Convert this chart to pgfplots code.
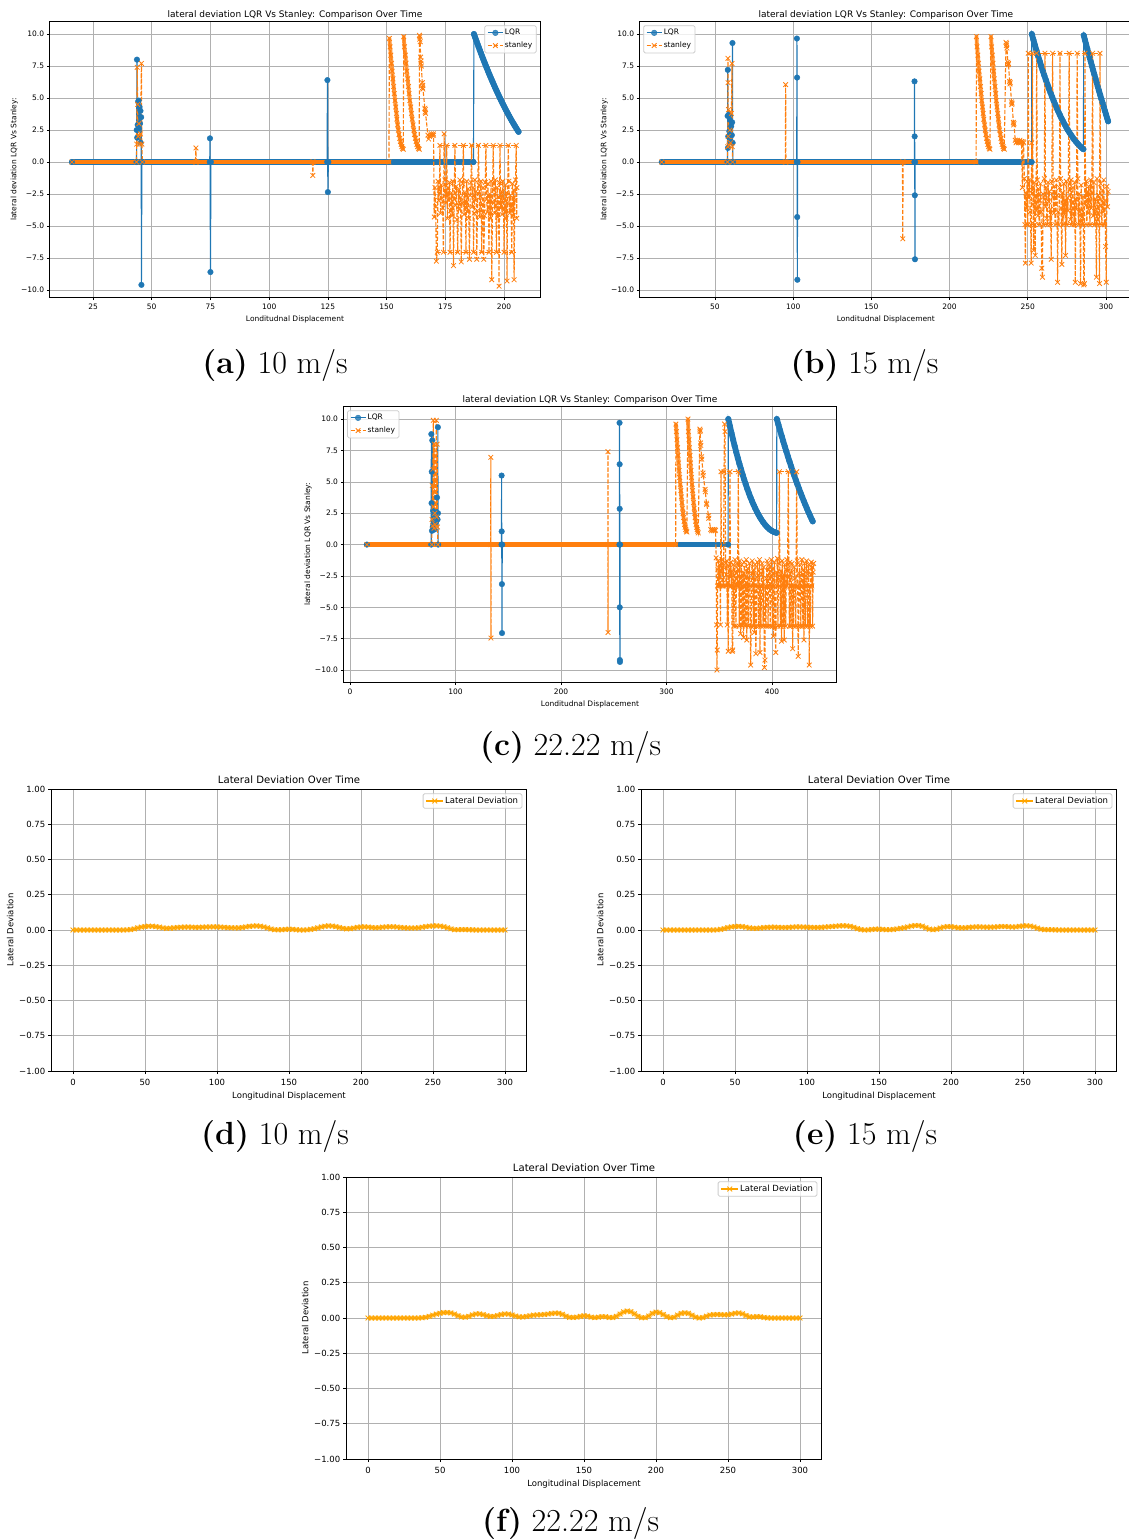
\documentclass[border=0pt]{standalone}
\usepackage{fontspec}
\usepackage{pgfplots}
\usepackage{pgfplotstable}
\pgfplotsset{compat=1.18}
\newfontfamily\dv{DejaVu Sans}
\definecolor{tabblue}{HTML}{1F77B4}
\definecolor{taborange}{HTML}{FF7F0E}
\definecolor{mplorange}{HTML}{FFA500}
\definecolor{gridgray}{HTML}{B0B0B0}
\newcommand\fa{\dv\fontsize{7.5pt}{9pt}\selectfont}
\newcommand\fb{\dv\fontsize{9pt}{11pt}\selectfont}
\newcommand\fc{\dv\fontsize{8.5pt}{10pt}\selectfont}
\newcommand\fd{\dv\fontsize{10.1pt}{12pt}\selectfont}
\newcommand\capfont{\fontsize{32pt}{38pt}\selectfont}
\pgfplotsset{
  mybase/.style={
    scale only axis, anchor=north west,
    axis line style={black, line width=0.6pt},
    grid=major, grid style={gridgray, line width=0.6pt},
    tick align=outside, xtick pos=bottom, ytick pos=left,
    tick style={black, line width=0.6pt},
    legend cell align=left,
  },
  topax/.style={mybase,
    ymin=-10.58, ymax=10.98,
    ytick={-10,-7.5,-5,-2.5,0,2.5,5,7.5,10},
    yticklabels={−10.0,−7.5,−5.0,−2.5,0.0,2.5,5.0,7.5,10.0},
    major tick length=2.6pt,
    xticklabel style={font=\fa, anchor=north, inner sep=0pt, yshift=-4.1pt},
    yticklabel style={font=\fa, anchor=east, inner sep=0pt, xshift=-2.65pt},
    xlabel style={font=\fa, anchor=north, inner sep=0pt, yshift=-6pt},
    ylabel style={font=\fa, inner sep=0pt, yshift=3pt},
    title style={font=\fb, at={(0.5,1)}, anchor=base, inner sep=0pt, yshift=-2.4pt},
    xlabel={Londitudnal Displacement},
    ylabel={lateral deviation LQR Vs Stanley:},
    title={lateral deviation LQR Vs Stanley: Comparison Over Time},
    legend style={font=\fa, draw=black!20, line width=0.75pt, rounded corners=1.5pt, fill=white, fill opacity=0.8, text opacity=1, draw opacity=1, inner xsep=2.5pt, inner ysep=2.2pt, row sep=2.6pt, nodes={inner sep=1.5pt}},
    legend image code/.code={\draw[mark repeat=2,mark phase=2,##1] plot coordinates {(0pt,0pt) (7.5pt,0pt) (15pt,0pt)};},
    legend entries={LQR,stanley},
  },
  botax/.style={mybase,
    ymin=-1, ymax=1, xmin=-15, xmax=315,
    width=475.2pt, height=282pt,
    ytick={-1,-0.75,-0.5,-0.25,0,0.25,0.5,0.75,1},
    yticklabels={−1.00,−0.75,−0.50,−0.25,0.00,0.25,0.50,0.75,1.00},
    xtick={0,50,100,150,200,250,300},
    xticklabels={0,50,100,150,200,250,300},
    major tick length=3pt,
    axis line style={line width=0.68pt}, grid style={line width=0.68pt}, tick style={line width=0.68pt},
    xticklabel style={font=\fc, anchor=north, inner sep=0pt, yshift=-4.65pt},
    yticklabel style={font=\fc, anchor=east, inner sep=0pt, xshift=-2.95pt},
    xlabel style={font=\fc, anchor=north, inner sep=0pt, yshift=-6.8pt},
    ylabel style={font=\fc, inner sep=0pt, yshift=5.4pt},
    title style={font=\fd, at={(0.5,1)}, anchor=base, inner sep=0pt, yshift=-0.5pt},
    xlabel={Longitudinal Displacement},
    ylabel={Lateral Deviation},
    title={Lateral Deviation Over Time},
    legend style={font=\fc, draw=black!20, line width=0.85pt, rounded corners=1.5pt, fill=white, fill opacity=0.8, text opacity=1, draw opacity=1, inner xsep=2.5pt, inner ysep=2pt, nodes={inner sep=1.3pt}, at={(1,1)}, anchor=north east, xshift=-4.25pt, yshift=-4.25pt},
    legend image code/.code={\draw[mark repeat=2,mark phase=2,##1] plot coordinates {(0pt,0pt) (8.5pt,0pt) (17pt,0pt)};},
    legend entries={Lateral Deviation},
  },
  lqr/.style={color=tabblue, line width=1.125pt, mark=*, mark size=2.8pt, mark options={solid, fill=tabblue, line width=0.4pt}},
  lqrband/.style={forget plot, color=tabblue, line width=5.8pt, line cap=round, line join=round, mark=none},
  stan/.style={color=taborange, line width=1.125pt, dash pattern=on 4.16pt off 1.8pt, mark=x, mark size=3.3pt, mark options={solid, line width=0.8pt}},
  stanband/.style={forget plot, color=taborange, line width=4.6pt, line cap=round, mark=none},
  stanband2/.style={forget plot, color=taborange!80, line width=3.8pt, line cap=round, line join=round, mark=none},
  stanguide/.style={forget plot, color=taborange, line width=1.125pt, dash pattern=on 4.16pt off 1.8pt, mark=none},
  latdev/.style={color=mplorange, line width=1.275pt, mark=x, mark size=3.4pt, mark options={line width=0.85pt}},
  latband/.style={forget plot, color=mplorange, line width=4.4pt, opacity=0.6, line join=round, mark=none},
}
\pgfplotstableread[row sep=\\]{x y\\0 0\\2.5 0\\5 0\\7.5 0\\10 0\\12.5 0\\15 0\\17.5 0\\20 0\\22.5 0\\25 0\\27.5 0\\30 0\\32.5 0\\35 0\\37.5 0.001\\40 0.003\\42.5 0.008\\45 0.015\\47.5 0.021\\50 0.025\\52.5 0.027\\55 0.027\\57.5 0.024\\60 0.02\\62.5 0.015\\65 0.012\\67.5 0.013\\70 0.015\\72.5 0.018\\75 0.02\\77.5 0.021\\80 0.021\\82.5 0.02\\85 0.019\\87.5 0.019\\90 0.02\\92.5 0.021\\95 0.022\\97.5 0.022\\100 0.022\\102.5 0.021\\105 0.019\\107.5 0.017\\110 0.016\\112.5 0.015\\115 0.015\\117.5 0.018\\120 0.022\\122.5 0.026\\125 0.028\\127.5 0.029\\130 0.027\\132.5 0.022\\135 0.015\\137.5 0.007\\140 0.002\\142.5 0.001\\145 0.002\\147.5 0.004\\150 0.006\\152.5 0.005\\155 0.002\\157.5 0\\160 0\\162.5 0.001\\165 0.004\\167.5 0.009\\170 0.015\\172.5 0.022\\175 0.027\\177.5 0.029\\180 0.028\\182.5 0.024\\185 0.018\\187.5 0.012\\190 0.008\\192.5 0.01\\195 0.014\\197.5 0.019\\200 0.022\\202.5 0.022\\205 0.021\\207.5 0.018\\210 0.016\\212.5 0.017\\215 0.02\\217.5 0.022\\220 0.023\\222.5 0.023\\225 0.021\\227.5 0.018\\230 0.016\\232.5 0.014\\235 0.014\\237.5 0.014\\240 0.016\\242.5 0.02\\245 0.024\\247.5 0.027\\250 0.029\\252.5 0.029\\255 0.028\\257.5 0.023\\260 0.016\\262.5 0.008\\265 0.002\\267.5 0.002\\270 0.003\\272.5 0.003\\275 0.002\\277.5 0.001\\280 0\\282.5 0\\285 0\\287.5 0\\290 0\\292.5 0\\295 0\\297.5 0\\300 0\\}\dtab
\pgfplotstableread[row sep=\\]{x y\\0 0\\2.5 0\\5 0\\7.5 0\\10 0\\12.5 0\\15 0\\17.5 0\\20 0\\22.5 0\\25 0\\27.5 0\\30 0\\32.5 0\\35 0\\37.5 0.001\\40 0.004\\42.5 0.01\\45 0.017\\47.5 0.022\\50 0.025\\52.5 0.026\\55 0.024\\57.5 0.02\\60 0.015\\62.5 0.012\\65 0.012\\67.5 0.014\\70 0.017\\72.5 0.019\\75 0.02\\77.5 0.02\\80 0.019\\82.5 0.018\\85 0.018\\87.5 0.019\\90 0.021\\92.5 0.022\\95 0.022\\97.5 0.021\\100 0.02\\102.5 0.019\\105 0.018\\107.5 0.018\\110 0.019\\112.5 0.021\\115 0.023\\117.5 0.025\\120 0.027\\122.5 0.029\\125 0.03\\127.5 0.029\\130 0.026\\132.5 0.019\\135 0.01\\137.5 0.003\\140 0\\142.5 0.001\\145 0.004\\147.5 0.006\\150 0.006\\152.5 0.004\\155 0.002\\157.5 0.002\\160 0.004\\162.5 0.008\\165 0.012\\167.5 0.016\\170 0.022\\172.5 0.028\\175 0.032\\177.5 0.032\\180 0.027\\182.5 0.016\\185 0.006\\187.5 0.002\\190 0.006\\192.5 0.014\\195 0.021\\197.5 0.024\\200 0.024\\202.5 0.02\\205 0.016\\207.5 0.015\\210 0.016\\212.5 0.019\\215 0.021\\217.5 0.022\\220 0.022\\222.5 0.021\\225 0.02\\227.5 0.02\\230 0.021\\232.5 0.023\\235 0.025\\237.5 0.025\\240 0.023\\242.5 0.021\\245 0.022\\247.5 0.026\\250 0.029\\252.5 0.03\\255 0.028\\257.5 0.022\\260 0.013\\262.5 0.006\\265 0.003\\267.5 0.002\\270 0.002\\272.5 0.001\\275 0\\277.5 0\\280 0\\282.5 0\\285 0\\287.5 0\\290 0\\292.5 0\\295 0\\297.5 0\\300 0\\}\etab
\pgfplotstableread[row sep=\\]{x y\\0 0\\2.5 0\\5 0\\7.5 0\\10 0\\12.5 0\\15 0\\17.5 0\\20 0\\22.5 0\\25 0\\27.5 0\\30 0\\32.5 0\\35 0\\37.5 0.002\\40 0.005\\42.5 0.012\\45 0.02\\47.5 0.028\\50 0.034\\52.5 0.038\\55 0.039\\57.5 0.036\\60 0.028\\62.5 0.016\\65 0.007\\67.5 0.006\\70 0.012\\72.5 0.022\\75 0.029\\77.5 0.029\\80 0.024\\82.5 0.016\\85 0.011\\87.5 0.012\\90 0.018\\92.5 0.025\\95 0.029\\97.5 0.028\\100 0.022\\102.5 0.014\\105 0.008\\107.5 0.007\\110 0.011\\112.5 0.016\\115 0.02\\117.5 0.022\\120 0.023\\122.5 0.025\\125 0.028\\127.5 0.032\\130 0.035\\132.5 0.034\\135 0.026\\137.5 0.013\\140 0.005\\142.5 0.004\\145 0.006\\147.5 0.012\\150 0.016\\152.5 0.013\\155 0.006\\157.5 0.003\\160 0.006\\162.5 0.01\\165 0.009\\167.5 0.004\\170 0.003\\172.5 0.012\\175 0.028\\177.5 0.043\\180 0.05\\182.5 0.045\\185 0.03\\187.5 0.012\\190 0.002\\192.5 0.002\\195 0.014\\197.5 0.033\\200 0.042\\202.5 0.038\\205 0.025\\207.5 0.01\\210 0.002\\212.5 0.005\\215 0.02\\217.5 0.033\\220 0.037\\222.5 0.033\\225 0.02\\227.5 0.006\\230 0\\232.5 0.003\\235 0.013\\237.5 0.021\\240 0.024\\242.5 0.025\\245 0.024\\247.5 0.022\\250 0.023\\252.5 0.028\\255 0.034\\257.5 0.036\\260 0.03\\262.5 0.018\\265 0.008\\267.5 0.007\\270 0.01\\272.5 0.009\\275 0.004\\277.5 0.001\\280 0\\282.5 0\\285 0\\287.5 0\\290 0\\292.5 0\\295 0\\297.5 0\\300 0\\}\ftab
\begin{document}
\begin{tikzpicture}
\useasboundingbox (0,0) rectangle (1129pt,-1540pt);
% ---------------- (a)
\begin{axis}[topax, at={(49.6pt,-21.5pt)}, width=490.8pt, height=275.9pt, xmin=6.5, xmax=215.5,
  xtick={25,50,75,100,125,150,175,200}, xticklabels={25,50,75,100,125,150,175,200},
  legend style={at={(1,1)}, anchor=north east, xshift=-3.75pt, yshift=-3.75pt}]
\addplot[lqrband] coordinates {(16,0) (187.0,0)};
\addplot[lqrband] coordinates {(187.2,10.0) (187.7,9.742) (188.2,9.486) (188.7,9.234) (189.2,8.985) (189.7,8.739) (190.2,8.496) (190.7,8.256) (191.2,8.019) (191.7,7.786) (192.2,7.555) (192.7,7.328) (193.2,7.103) (193.7,6.882) (194.2,6.664) (194.7,6.449) (195.2,6.237) (195.7,6.028) (196.2,5.822) (196.7,5.620) (197.2,5.420) (197.7,5.224) (198.2,5.030) (198.7,4.840) (199.2,4.653) (199.7,4.469) (200.2,4.288) (200.7,4.110) (201.2,3.935) (201.7,3.764) (202.2,3.595) (202.7,3.430) (203.2,3.267) (203.7,3.108) (204.2,2.952) (204.7,2.799) (205.2,2.649) (205.7,2.502) (206.2,2.358)};
\addplot[lqr] coordinates {(16,0) (43.5,0) (43.6,2.5) (43.7,8.0) (43.8,1.9) (44.0,2.9) (44.2,4.7) (44.4,4.8) (44.6,2.6) (44.8,4.3) (45.0,3.0) (45.2,4.0) (45.3,1.5) (45.5,3.5) (45.6,-9.6) (45.8,0) (74.7,0) (74.8,1.85) (75.0,-8.6) (75.2,0) (124.7,0) (124.8,6.4) (125.0,-2.35) (125.2,0) (187.0,0)
 (187.2,10.0) (187.7,9.742) (188.2,9.486) (188.7,9.234) (189.2,8.985) (189.7,8.739) (190.2,8.496) (190.7,8.256) (191.2,8.019) (191.7,7.786) (192.2,7.555) (192.7,7.328) (193.2,7.103) (193.7,6.882) (194.2,6.664) (194.7,6.449) (195.2,6.237) (195.7,6.028) (196.2,5.822) (196.7,5.620) (197.2,5.420) (197.7,5.224) (198.2,5.030) (198.7,4.840) (199.2,4.653) (199.7,4.469) (200.2,4.288) (200.7,4.110) (201.2,3.935) (201.7,3.764) (202.2,3.595) (202.7,3.430) (203.2,3.267) (203.7,3.108) (204.2,2.952) (204.7,2.799) (205.2,2.649) (205.7,2.502) (206.2,2.358)};
\addplot[stanband] coordinates {(16,0) (151.0,0)};
\addplot[stanband2] coordinates {(151.2,9.66) (151.5,9.0) (151.8,8.35) (152.1,7.72) (152.4,7.1) (152.7,6.5) (153.0,5.9) (153.3,5.35) (153.6,4.8) (153.9,4.3) (154.2,3.8) (154.4,3.35) (154.7,2.9) (155.0,2.5) (155.3,2.15) (155.6,1.85) (155.9,1.6) (156.2,1.38) (156.5,1.2) (156.8,1.07) (157.1,1.0)};
\addplot[stanband2] coordinates {(157.3,9.79) (157.6,9.0) (158.0,8.35) (158.3,7.72) (158.6,7.1) (159.0,6.5) (159.3,5.9) (159.6,5.35) (159.9,4.8) (160.3,4.3) (160.6,3.8) (160.9,3.35) (161.3,2.9) (161.6,2.5) (161.9,2.15) (162.3,1.85) (162.6,1.6) (162.9,1.38) (163.2,1.2) (163.6,1.07) (163.9,1.0)};
\addplot[stan] coordinates {(16,0) (43.5,0) (43.6,1.4) (43.8,7.4) (44.0,4.5) (44.2,2.0) (44.5,3.0) (44.8,1.4) (45.2,2.2) (45.6,7.7) (45.8,1.4) (46.0,0) (68.6,0) (68.8,1.1) (69.0,0) (118.4,0) (118.6,-1.05) (118.8,0) (151.0,0)
 (151.2,9.66) (151.5,9.0) (151.8,8.35) (152.1,7.72) (152.4,7.1) (152.7,6.5) (153.0,5.9) (153.3,5.35) (153.6,4.8) (153.9,4.3) (154.2,3.8) (154.4,3.35) (154.7,2.9) (155.0,2.5) (155.3,2.15) (155.6,1.85) (155.9,1.6) (156.2,1.38) (156.5,1.2) (156.8,1.07) (157.1,1.0)
 (157.3,9.79) (157.6,9.0) (158.0,8.35) (158.3,7.72) (158.6,7.1) (159.0,6.5) (159.3,5.9) (159.6,5.35) (159.9,4.8) (160.3,4.3) (160.6,3.8) (160.9,3.35) (161.3,2.9) (161.6,2.5) (161.9,2.15) (162.3,1.85) (162.6,1.6) (162.9,1.38) (163.2,1.2) (163.6,1.07) (163.9,1.0)
 (164.0,9.9) (164.1,9.6) (164.2,9.8) (164.3,9.4) (164.5,8.2) (164.6,7.7) (164.7,7.9) (164.8,7.5) (165.2,6.2) (165.3,5.8) (165.4,6.0) (165.5,5.7) (166.3,4.2) (166.4,3.9) (166.5,4.1) (166.6,3.8) (167.6,2.1) (167.9,1.8) (168.3,2.0) (168.7,2.1) (169.1,2.2) (169.5,2.1) (169.9,2.2)
 (170.0,2.1) (170.3,-4.3) (170.6,-2.0) (170.9,-3.5) (171.2,-7.75) (171.6,-7.05) (171.9,-1.5) (172.2,-3.0) (172.5,-2.2) (172.7,1.3) (173.0,-4.0) (173.3,-1.8) (173.6,-2.8) (173.9,-3.6) (174.2,-7.05) (174.5,2.2) (174.8,-1.4) (175.1,-3.2) (175.4,-2.5) (175.6,1.3) (175.9,-4.4) (176.2,-2.0) (176.5,-3.0) (176.8,-1.6) (177.0,-7.05) (177.3,-3.8) (177.6,-2.4) (177.9,-4.2) (178.2,-1.5) (178.5,-8.1) (178.8,-2.9) (179.1,1.3) (179.4,-3.4) (179.7,-1.9) (180.0,-4.5) (180.3,-7.05) (180.6,-2.2) (180.9,-3.7) (181.2,-1.4) (181.5,-2.8) (181.8,-7.8) (182.1,-3.2) (182.4,-1.7) (182.7,1.3) (183.0,-4.1) (183.3,-2.4) (183.6,-3.3) (183.8,-7.05) (184.1,-1.5) (184.4,-3.9) (184.7,-2.1) (185.0,-4.4) (185.3,-7.6) (185.6,-2.6) (185.9,-1.6) (186.2,1.3) (186.5,-3.5) (186.8,-2.0) (187.0,-7.05) (187.3,-4.0) (187.6,-1.4) (187.9,-3.0) (188.1,-2.3) (188.4,-7.6) (188.7,-3.8) (189.1,1.3) (189.4,-1.8) (189.7,-4.3) (190.0,-2.7) (190.2,-1.5) (190.5,-7.05) (190.8,-3.3) (191.1,-2.0) (191.4,-7.6) (191.7,-4.2) (192.0,-1.6) (192.3,1.3) (192.6,-2.9) (192.9,-3.9) (193.2,-1.7) (193.6,-7.05) (193.9,-2.5) (194.2,-4.4) (194.5,-1.5) (194.8,-9.2) (195.1,-3.1) (195.4,1.3) (195.7,-2.2) (196.0,-4.0) (196.3,-1.4) (196.5,-3.4) (196.8,-7.05) (197.1,-2.0) (197.4,-4.3) (197.7,-2.7) (197.9,-9.7) (198.1,-1.6) (198.3,1.3) (198.6,-3.6) (198.9,-2.3) (199.2,-4.1) (199.5,-1.5) (199.8,-2.9) (200.0,-7.05) (200.3,-3.7) (200.6,-1.8) (200.9,-4.4) (201.1,-2.4) (201.3,-9.3) (201.5,-3.2) (201.8,1.3) (202.1,-1.5) (202.4,-4.0) (202.7,-2.6) (203.0,-3.5) (203.3,-7.05) (203.6,-1.7) (203.9,-4.2) (204.1,-2.2) (204.3,-9.2) (204.6,-3.0) (204.9,-1.4) (205.2,1.3) (205.4,-4.4) (205.5,-2.0)};
\addplot[stanguide] coordinates {(172.7,1.3) (205.2,1.3)};
\addplot[stanguide] coordinates {(171.6,-7.05) (205.3,-7.05)};
\end{axis}
% ---------------- (b)
\begin{axis}[topax, at={(639.5pt,-21.5pt)}, width=492.7pt, height=275.9pt, xmin=1.75, xmax=316.8,
  xtick={50,100,150,200,250,300}, xticklabels={50,100,150,200,250,300},
  legend style={at={(0,1)}, anchor=north west, xshift=3.75pt, yshift=-3.75pt}]
\addplot[lqrband] coordinates {(16,0) (252.5,0)};
\addplot[lqrband] coordinates {(252.6,10.0) (253.6,9.558) (254.6,9.127) (255.6,8.707) (256.6,8.296) (257.6,7.897) (258.6,7.508) (259.6,7.130) (260.6,6.762) (261.6,6.405) (262.6,6.058) (263.6,5.722) (264.6,5.396) (265.6,5.081) (266.6,4.777) (267.6,4.483) (268.6,4.200) (269.6,3.927) (270.6,3.665) (271.6,3.413) (272.6,3.172) (273.6,2.941) (274.6,2.722) (275.6,2.512) (276.6,2.313) (277.6,2.125) (278.6,1.947) (279.6,1.780) (280.6,1.624) (281.6,1.477) (282.6,1.342) (283.6,1.217) (284.6,1.103) (285.6,0.999)};
\addplot[lqrband] coordinates {(285.8,9.9) (286.55,9.551) (287.3,9.204) (288.05,8.860) (288.8,8.519) (289.55,8.181) (290.3,7.845) (291.05,7.511) (291.8,7.180) (292.55,6.852) (293.3,6.527) (294.05,6.204) (294.8,5.884) (295.55,5.566) (296.3,5.251) (297.05,4.939) (297.8,4.629) (298.55,4.322) (299.3,4.018) (300.05,3.716) (300.8,3.417) (301.4,3.180)};
\addplot[lqr] coordinates {(16,0) (58.0,0) (58.1,3.6) (58.2,7.2) (58.3,1.1) (58.5,2.0) (58.8,3.7) (59.2,2.4) (59.6,3.3) (60.0,1.6) (60.4,2.8) (60.8,2.1) (61.0,3.1) (61.2,9.3) (61.3,1.5) (61.5,0) (102.3,0) (102.4,9.65) (102.5,6.6) (102.6,-4.3) (102.7,-9.2) (102.8,0) (177.5,0) (177.6,6.3) (177.7,2.0) (177.8,-2.6) (177.9,-7.6) (178.0,0) (252.5,0)
 (252.6,10.0) (253.6,9.558) (254.6,9.127) (255.6,8.707) (256.6,8.296) (257.6,7.897) (258.6,7.508) (259.6,7.130) (260.6,6.762) (261.6,6.405) (262.6,6.058) (263.6,5.722) (264.6,5.396) (265.6,5.081) (266.6,4.777) (267.6,4.483) (268.6,4.200) (269.6,3.927) (270.6,3.665) (271.6,3.413) (272.6,3.172) (273.6,2.941) (274.6,2.722) (275.6,2.512) (276.6,2.313) (277.6,2.125) (278.6,1.947) (279.6,1.780) (280.6,1.624) (281.6,1.477) (282.6,1.342) (283.6,1.217) (284.6,1.103) (285.6,0.999)
 (285.8,9.9) (286.55,9.551) (287.3,9.204) (288.05,8.860) (288.8,8.519) (289.55,8.181) (290.3,7.845) (291.05,7.511) (291.8,7.180) (292.55,6.852) (293.3,6.527) (294.05,6.204) (294.8,5.884) (295.55,5.566) (296.3,5.251) (297.05,4.939) (297.8,4.629) (298.55,4.322) (299.3,4.018) (300.05,3.716) (300.8,3.417) (301.4,3.180)};
\addplot[stanband] coordinates {(16,0) (217.0,0)};
\addplot[stanband2] coordinates {(217.2,9.8) (217.6,9.0) (218.1,8.35) (218.5,7.72) (218.9,7.1) (219.4,6.5) (219.8,5.9) (220.2,5.35) (220.6,4.8) (221.1,4.3) (221.5,3.8) (221.9,3.35) (222.4,2.9) (222.8,2.5) (223.2,2.15) (223.7,1.85) (224.1,1.6) (224.5,1.38) (224.9,1.2) (225.4,1.07) (225.8,1.0)};
\addplot[stanband2] coordinates {(226.5,9.8) (226.9,9.0) (227.4,8.35) (227.8,7.72) (228.2,7.1) (228.6,6.5) (229.1,5.9) (229.5,5.35) (229.9,4.8) (230.3,4.3) (230.8,3.8) (231.2,3.35) (231.6,2.9) (232.0,2.5) (232.5,2.15) (232.9,1.85) (233.3,1.6) (233.7,1.38) (234.2,1.2) (234.6,1.07) (235.0,1.0)};
\addplot[stan] coordinates {(16,0) (58.0,0) (58.2,1.2) (58.3,8.1) (58.4,6.2) (58.5,2.0) (58.7,4.1) (59.0,1.3) (59.5,2.5) (60.0,1.5) (60.5,3.8) (60.9,7.7) (61.1,1.2) (61.3,0) (95.0,0) (95.2,6.05) (95.4,0) (169.9,0) (170.1,-6.0) (170.3,0) (217.0,0)
 (217.2,9.8) (217.6,9.0) (218.1,8.35) (218.5,7.72) (218.9,7.1) (219.4,6.5) (219.8,5.9) (220.2,5.35) (220.6,4.8) (221.1,4.3) (221.5,3.8) (221.9,3.35) (222.4,2.9) (222.8,2.5) (223.2,2.15) (223.7,1.85) (224.1,1.6) (224.5,1.38) (224.9,1.2) (225.4,1.07) (225.8,1.0)
 (226.5,9.8) (226.9,9.0) (227.4,8.35) (227.8,7.72) (228.2,7.1) (228.6,6.5) (229.1,5.9) (229.5,5.35) (229.9,4.8) (230.3,4.3) (230.8,3.8) (231.2,3.35) (231.6,2.9) (232.0,2.5) (232.5,2.15) (232.9,1.85) (233.3,1.6) (233.7,1.38) (234.2,1.2) (234.6,1.07) (235.0,1.0)
 (236.1,9.35) (236.3,9.1) (236.5,9.25) (236.7,8.9) (237.3,7.8) (237.5,7.6) (237.7,7.7) (238.4,6.3) (238.6,6.1) (238.8,6.2) (239.6,4.7) (239.8,4.5) (240.0,4.6) (240.8,3.1) (241.0,2.9) (241.2,3.0) (242.0,1.7) (242.5,1.5) (243.0,1.6) (243.5,1.7) (244.0,1.5) (244.5,1.6) (245.0,1.7) (245.5,1.5) (246.0,1.6)
 (246.6,-2.0) (247.0,1.6) (247.4,1.5) (247.8,-1.3) (248.2,-4.9) (248.5,-7.9) (248.8,-2.4) (249.2,-3.6) (249.6,-1.5) (250.0,-4.9) (250.3,8.5) (250.7,-2.8) (251.1,-1.4) (251.5,-3.9) (251.9,-4.9) (252.2,-7.9) (252.5,1.5) (252.8,-2.2) (253.0,8.5) (253.4,-3.3) (253.8,-6.9) (254.1,-1.6) (254.5,-4.9) (254.8,-7.3) (255.1,-2.6) (255.4,-3.8) (255.7,8.5) (256.1,-1.4) (256.5,-4.2) (256.9,-2.1) (257.3,-4.9) (257.7,-3.0) (258.1,-1.7) (258.5,-3.9) (259.0,-8.3) (259.4,-9.0) (259.8,-2.5) (260.2,-4.9) (260.6,-1.3) (261.0,8.5) (261.4,-3.5) (261.8,-2.0) (262.2,-4.4) (262.6,-4.9) (263.0,-1.6) (263.4,-3.1) (263.8,-2.3) (264.2,-4.9) (264.6,-3.7) (265.0,-7.6) (265.4,-1.5) (265.9,8.5) (266.3,-2.7) (266.7,-4.0) (267.1,-1.9) (267.5,-4.9) (267.9,-3.3) (268.3,-1.4) (268.7,-2.6) (269.1,-9.4) (269.5,-3.9) (269.9,-4.9) (270.3,-2.0) (270.6,8.5) (271.0,-1.3) (271.4,-3.6) (271.8,-8.0) (272.2,-2.4) (272.6,-4.9) (273.0,-1.7) (273.4,-4.1) (273.8,-3.0) (274.2,-7.3) (274.6,-1.5) (275.0,-4.9) (275.4,-2.8) (275.8,-3.8) (276.5,8.5) (276.9,-2.2) (277.3,-4.5) (277.7,-1.4) (278.1,-4.9) (278.5,-3.2) (278.9,-2.0) (279.3,-4.0) (279.7,-4.9) (280.1,-1.6) (280.4,-9.4) (280.8,-2.9) (281.2,-3.7) (281.6,8.5) (282.0,-1.3) (282.4,-4.9) (282.8,-2.5) (283.3,-3.9) (283.8,-9.5) (284.2,-1.8) (284.6,-4.3) (285.0,-4.9) (285.4,-2.7) (285.8,-9.6) (286.2,-9.5) (286.6,8.5) (287.0,-3.4) (287.4,-1.5) (287.8,-4.9) (288.2,-2.3) (288.6,-4.0) (289.0,-1.9) (289.4,-3.1) (289.8,-4.9) (290.2,-1.4) (290.6,-3.6) (291.0,-2.4) (291.5,8.5) (291.9,-4.2) (292.3,-1.6) (292.7,-4.9) (293.1,-2.9) (293.5,-3.8) (293.9,-9.0) (294.3,-1.3) (294.7,-4.9) (295.1,-2.6) (295.5,-4.1) (295.9,-9.5) (296.2,8.5) (296.6,-1.7) (297.0,-3.4) (297.4,-4.9) (297.8,-2.2) (298.2,-3.9) (298.6,-1.4) (299.0,-4.9) (299.4,-3.0) (299.8,-6.6) (300.2,-9.4) (300.6,-1.9) (301.0,-3.5) (301.4,-2.3)};
\addplot[stanguide] coordinates {(250.3,8.5) (296.2,8.5)};
\addplot[stanguide] coordinates {(248.2,-4.9) (301.4,-4.9)};
\end{axis}
% ---------------- (c)
\begin{axis}[topax, at={(343.4pt,-406.5pt)}, width=493.2pt, height=275.5pt, xmin=-6.25, xmax=461.25, ymin=-10.95, ymax=11.0,
  xtick={0,100,200,300,400}, xticklabels={0,100,200,300,400},
  legend style={at={(0,1)}, anchor=north west, xshift=3.75pt, yshift=-3.75pt}]
\addplot[lqrband] coordinates {(16,0) (358.4,0)};
\addplot[lqrband] coordinates {(358.6,10.0) (360.1,9.438) (361.6,8.894) (363.1,8.368) (364.6,7.860) (366.1,7.369) (367.6,6.897) (369.1,6.443) (370.6,6.007) (372.1,5.588) (373.6,5.188) (375.1,4.806) (376.6,4.441) (378.1,4.095) (379.6,3.767) (381.1,3.456) (382.6,3.164) (384.1,2.889) (385.6,2.633) (387.1,2.394) (388.6,2.174) (390.1,1.971) (391.6,1.786) (393.1,1.620) (394.6,1.471) (396.1,1.340) (397.6,1.228) (399.1,1.133) (400.6,1.056) (402.1,0.997) (403.6,0.956) (404.4,0.942)};
\addplot[lqrband] coordinates {(404.6,10.0) (406.1,9.548) (407.6,9.105) (409.1,8.670) (410.6,8.244) (412.1,7.826) (413.6,7.417) (415.1,7.016) (416.6,6.624) (418.1,6.240) (419.6,5.865) (421.1,5.499) (422.6,5.140) (424.1,4.791) (425.6,4.449) (427.1,4.117) (428.6,3.793) (430.1,3.477) (431.6,3.170) (433.1,2.871) (434.6,2.581) (436.1,2.299) (437.6,2.026) (438.6,1.849)};
\addplot[lqr] coordinates {(16,0) (77.0,0) (77.1,8.8) (77.3,3.3) (77.5,5.8) (77.7,1.1) (78.0,8.3) (78.4,1.4) (78.8,2.7) (79.2,1.6) (79.6,2.3) (80.0,1.2) (80.5,2.0) (81.0,2.6) (81.5,1.8) (82.0,2.4) (82.5,3.75) (83.0,2.0) (83.3,9.35) (83.4,2.5) (83.6,0) (143.6,0) (143.7,5.5) (143.8,1.05) (144.0,-3.15) (144.1,-7.05) (144.3,0) (255.4,0) (255.5,9.7) (255.6,6.4) (255.65,2.85) (255.7,-5.0) (255.8,-9.2) (255.9,-9.35) (256.0,0) (358.4,0)
 (358.6,10.0) (360.1,9.438) (361.6,8.894) (363.1,8.368) (364.6,7.860) (366.1,7.369) (367.6,6.897) (369.1,6.443) (370.6,6.007) (372.1,5.588) (373.6,5.188) (375.1,4.806) (376.6,4.441) (378.1,4.095) (379.6,3.767) (381.1,3.456) (382.6,3.164) (384.1,2.889) (385.6,2.633) (387.1,2.394) (388.6,2.174) (390.1,1.971) (391.6,1.786) (393.1,1.620) (394.6,1.471) (396.1,1.340) (397.6,1.228) (399.1,1.133) (400.6,1.056) (402.1,0.997) (403.6,0.956) (404.4,0.942)
 (404.6,10.0) (406.1,9.548) (407.6,9.105) (409.1,8.670) (410.6,8.244) (412.1,7.826) (413.6,7.417) (415.1,7.016) (416.6,6.624) (418.1,6.240) (419.6,5.865) (421.1,5.499) (422.6,5.140) (424.1,4.791) (425.6,4.449) (427.1,4.117) (428.6,3.793) (430.1,3.477) (431.6,3.170) (433.1,2.871) (434.6,2.581) (436.1,2.299) (437.6,2.026) (438.6,1.849)};
\addplot[stanband] coordinates {(16,0) (308.7,0)};
\addplot[stanband2] coordinates {(308.9,9.6) (309.4,9.0) (309.9,8.35) (310.5,7.72) (311.0,7.1) (311.5,6.5) (312.0,5.9) (312.5,5.35) (313.1,4.8) (313.6,4.3) (314.1,3.8) (314.6,3.35) (315.1,2.9) (315.7,2.5) (316.2,2.15) (316.7,1.85) (317.2,1.6) (317.7,1.38) (318.3,1.2) (318.8,1.07) (319.3,1.0)};
\addplot[stanband2] coordinates {(320.3,10.0) (320.8,9.0) (321.3,8.35) (321.8,7.72) (322.3,7.1) (322.8,6.5) (323.2,5.9) (323.7,5.35) (324.2,4.8) (324.7,4.3) (325.2,3.8) (325.7,3.35) (326.2,2.9) (326.7,2.5) (327.2,2.15) (327.7,1.85) (328.1,1.6) (328.6,1.38) (329.1,1.2) (329.6,1.07) (330.1,0.93)};
\addplot[stan] coordinates {(16,0) (77.5,0) (77.8,2.0) (78.0,4.7) (78.3,1.5) (78.6,6.0) (79.0,9.9) (79.3,3.0) (79.6,1.3) (80.0,8.0) (80.4,2.5) (80.8,1.6) (81.3,5.0) (81.8,9.9) (82.2,2.2) (82.6,8.0) (83.0,1.4) (83.3,0) (133.4,0) (133.5,6.95) (133.6,-7.45) (133.7,0) (244.4,0) (244.5,7.4) (244.6,-7.0) (244.7,0) (308.7,0)
 (308.9,9.6) (309.4,9.0) (309.9,8.35) (310.5,7.72) (311.0,7.1) (311.5,6.5) (312.0,5.9) (312.5,5.35) (313.1,4.8) (313.6,4.3) (314.1,3.8) (314.6,3.35) (315.1,2.9) (315.7,2.5) (316.2,2.15) (316.7,1.85) (317.2,1.6) (317.7,1.38) (318.3,1.2) (318.8,1.07) (319.3,1.0)
 (320.3,10.0) (320.8,9.0) (321.3,8.35) (321.8,7.72) (322.3,7.1) (322.8,6.5) (323.2,5.9) (323.7,5.35) (324.2,4.8) (324.7,4.3) (325.2,3.8) (325.7,3.35) (326.2,2.9) (326.7,2.5) (327.2,2.15) (327.7,1.85) (328.1,1.6) (328.6,1.38) (329.1,1.2) (329.6,1.07) (330.1,0.93)
 (331.6,9.2) (331.8,9.0) (332.0,9.1) (332.3,8.1) (332.5,7.9) (333.3,7.0) (333.5,6.8) (334.6,5.7) (334.8,5.5) (336.6,4.4) (336.8,4.2) (337.9,3.3) (338.1,3.2) (339.9,2.3) (340.1,2.1) (342.0,1.2) (342.8,1.1) (343.6,1.2) (344.4,1.1) (345.2,1.2) (346.0,1.1) (346.5,1.15)
 (347.1,-1.06) (347.5,-6.4) (347.8,-10.0) (348.1,-8.4) (348.4,-3.3) (348.8,-2.0) (349.2,-1.3) (349.6,-3.3) (350.0,-2.5) (350.4,-1.6) (350.8,-3.3) (351.2,-6.4) (351.7,5.8) (352.1,-2.2) (352.5,-1.2) (352.9,-3.3) (353.3,-2.8) (353.7,-1.5) (354.1,-3.3) (354.5,5.8) (355.0,9.6) (355.5,9.0) (356.0,-1.8) (356.4,-3.3) (356.8,-2.4) (357.2,-1.3) (357.6,-6.4) (358.0,-3.0) (358.5,-8.5) (358.9,-1.7) (359.4,-3.3) (360.2,5.8) (360.6,-2.6) (361.0,-1.4) (361.4,-3.3) (361.8,-2.1) (362.3,-8.5) (362.8,-8.4) (363.2,-1.6) (363.6,-3.3) (364.0,-6.5) (364.5,-2.9) (364.9,-1.2) (365.4,-3.3) (365.8,-6.5) (366.3,-2.3) (366.8,-1.5) (367.3,-3.3) (368.1,5.8) (368.5,-2.0) (368.9,-6.5) (369.4,-1.3) (369.8,-3.3) (370.3,-7.1) (370.8,-2.7) (371.2,-1.6) (371.7,-6.5) (372.2,-3.3) (372.7,-2.2) (373.1,-7.4) (373.6,-1.4) (374.1,-3.3) (374.6,-6.5) (375.1,-2.5) (375.6,-1.2) (376.1,-7.6) (376.6,-3.3) (377.1,-1.9) (377.6,-6.5) (378.1,-2.8) (378.6,-1.5) (379.1,-3.3) (379.8,-9.6) (380.3,-6.5) (380.8,-2.3) (381.3,-1.3) (381.8,-3.3) (382.3,-6.5) (382.8,-2.0) (383.3,-7.0) (383.8,-1.6) (384.3,-3.3) (384.7,-8.7) (385.2,-6.5) (385.7,-2.6) (386.2,-1.4) (386.7,-3.3) (387.2,-6.5) (387.7,-2.1) (388.2,-1.2) (388.6,-8.6) (389.1,-3.3) (389.6,-6.5) (390.1,-2.4) (390.6,-1.5) (391.1,-3.3) (391.6,-6.5) (392.1,-1.8) (392.8,-9.8) (393.3,-9.2) (393.8,-3.3) (394.3,-6.5) (394.8,-2.7) (395.3,-1.3) (395.8,-3.3) (396.3,-6.5) (396.8,-2.0) (397.3,-1.6) (397.8,-3.3) (398.3,-6.5) (398.8,-2.5) (399.3,-1.2) (399.8,-3.3) (400.3,-6.5) (400.8,-1.9) (401.3,-7.3) (401.8,-3.3) (402.3,-1.4) (402.8,-6.5) (403.6,-8.6) (404.1,-2.2) (404.6,-3.3) (405.1,-1.1) (405.6,-6.5) (406.1,-2.8) (406.6,-1.5) (407.0,5.8) (407.5,-3.3) (408.0,-6.5) (408.5,-2.1) (409.1,-7.7) (409.6,-1.3) (410.1,-3.3) (410.6,-6.5) (411.1,-2.4) (411.6,-7.6) (412.1,-1.6) (412.6,-3.3) (413.1,-6.5) (413.6,-2.0) (414.1,-1.2) (414.6,-3.3) (415.5,5.8) (416.0,-2.6) (416.5,-6.5) (417.0,-1.4) (417.5,-3.3) (418.0,-6.5) (418.5,-2.2) (419.0,-1.5) (419.6,-8.3) (420.1,-3.3) (420.6,-6.5) (421.1,-1.8) (421.6,-2.7) (422.1,-3.3) (422.6,-6.5) (423.4,5.8) (423.9,-1.3) (424.4,-3.3) (424.8,-8.9) (425.3,-6.5) (425.8,-2.3) (426.3,-1.6) (426.8,-3.3) (427.3,-6.5) (427.8,-2.9) (428.3,-1.2) (428.8,-3.3) (429.3,-6.5) (429.8,-2.0) (430.3,-7.6) (430.8,-1.5) (431.3,-3.3) (431.8,-6.5) (432.3,-2.5) (432.8,-1.3) (433.3,-3.3) (433.8,-6.5) (434.3,-2.1) (434.8,-1.6) (435.3,-9.6) (435.8,-3.3) (436.3,-6.5) (436.8,-2.4) (437.3,-1.4) (437.8,-3.3) (438.3,-1.8) (438.5,-6.5) (439.0,-2.2) (439.5,-1.5)};
\addplot[stanguide] coordinates {(351.7,5.8) (368.1,5.8)};
\addplot[stanguide] coordinates {(407.0,5.8) (423.4,5.8)};
\addplot[stanguide] coordinates {(348.4,-3.3) (439.5,-3.3)};
\addplot[stanguide] coordinates {(364.0,-6.5) (438.5,-6.5)};
\end{axis}
% ---------------- (d)
\begin{axis}[botax, at={(51.4pt,-789pt)}]
\addplot[latband] table {\dtab};
\addplot[latdev] table {\dtab};
\end{axis}
% ---------------- (e)
\begin{axis}[botax, at={(641.4pt,-789pt)}]
\addplot[latband] table {\etab};
\addplot[latdev] table {\etab};
\end{axis}
% ---------------- (f)
\begin{axis}[botax, at={(346.4pt,-1177pt)}]
\addplot[latband] table {\ftab};
\addplot[latdev] table {\ftab};
\end{axis}
% captions
\node[anchor=base, inner sep=0pt] at (275pt,-373.5pt) {\capfont\textbf{(a)} 10 m/s};
\node[anchor=base, inner sep=0pt] at (864.5pt,-373.5pt) {\capfont\textbf{(b)} 15 m/s};
\node[anchor=base, inner sep=0pt] at (570.5pt,-755.5pt) {\capfont\textbf{(c)} 22.22 m/s};
\node[anchor=base, inner sep=0pt] at (275pt,-1144pt) {\capfont\textbf{(d)} 10 m/s};
\node[anchor=base, inner sep=0pt] at (865pt,-1144pt) {\capfont\textbf{(e)} 15 m/s};
\node[anchor=base, inner sep=0pt] at (570.5pt,-1531.5pt) {\capfont\textbf{(f)} 22.22 m/s};
\end{tikzpicture}
\end{document}
